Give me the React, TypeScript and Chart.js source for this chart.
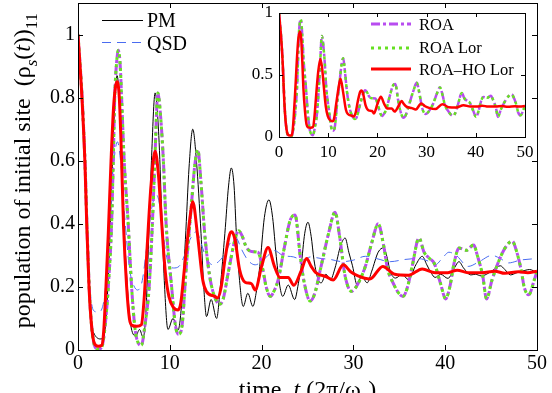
import React, { useEffect, useRef } from "react";
import { Chart, registerables } from "chart.js";

Chart.register(...registerables);

// ---------- data (time in units of 2π/ω_c) ----------
const pmT = [0, 0.45, 0.78, 0.97, 1.2, 1.45, 1.7, 2.4, 2.8, 3.1, 3.4, 3.7, 4.0, 4.25, 4.5, 4.8, 5.1, 5.5, 5.8, 6.3, 6.7, 7.1, 7.4, 7.7, 8.0, 8.4, 8.8, 9.1, 9.4, 9.8, 10.35, 10.9, 11.3, 11.7, 12.1, 12.5, 12.9, 13.4, 13.7, 14.0, 14.5, 15.1, 15.5, 16.0, 16.4, 16.7, 17.0, 17.25, 17.6, 18.0, 18.5, 19.05, 19.4, 19.8, 20.3, 20.8, 21.2, 21.6, 22.0, 22.3, 22.9, 23.6, 24.0, 24.3, 24.7, 25.05, 25.4, 25.7, 26.2, 26.5, 27.0, 27.5, 28.0, 28.6, 29.1, 29.5, 29.9, 30.4, 30.9, 31.5, 32.0, 32.7, 33.3, 33.7, 34.0, 34.6, 35.3, 36.0, 36.8, 37.5, 38.0, 38.5, 38.9, 39.5, 40.3, 41.0, 41.5, 42.0, 42.8, 43.3, 43.9, 44.5, 45.3, 46.0, 46.5, 47.1, 47.8, 48.4, 49.2, 50];
const pmV = [1, 0.8, 0.57, 0.4, 0.2, 0.08, 0.055, 0.035, 0.04, 0.12, 0.3, 0.55, 0.78, 0.87, 0.8, 0.58, 0.35, 0.15, 0.07, 0.045, 0.065, 0.04, 0.12, 0.35, 0.6, 0.815, 0.68, 0.45, 0.22, 0.065, 0.1, 0.063, 0.15, 0.35, 0.58, 0.7, 0.6, 0.37, 0.2, 0.106, 0.16, 0.1, 0.2, 0.37, 0.52, 0.577, 0.52, 0.37, 0.22, 0.138, 0.18, 0.138, 0.18, 0.265, 0.42, 0.476, 0.42, 0.296, 0.2, 0.17, 0.206, 0.16, 0.21, 0.265, 0.37, 0.405, 0.36, 0.287, 0.22, 0.213, 0.24, 0.223, 0.26, 0.33, 0.355, 0.31, 0.267, 0.207, 0.234, 0.213, 0.25, 0.31, 0.324, 0.29, 0.25, 0.228, 0.24, 0.223, 0.27, 0.297, 0.27, 0.243, 0.23, 0.24, 0.227, 0.26, 0.28, 0.26, 0.238, 0.24, 0.235, 0.24, 0.255, 0.267, 0.255, 0.238, 0.245, 0.25, 0.255, 0.245];

const qsdT = [0, 0.5, 0.9, 1.3, 1.7, 2.2, 2.6, 3.0, 3.4, 3.85, 4.3, 4.7, 5.1, 5.6, 6.0, 6.5, 7.0, 7.5, 8.1, 8.6, 9.0, 9.5, 9.9, 10.4, 11.0, 11.6, 12.2, 12.9, 13.5, 14.0, 14.7, 15.3, 15.9, 16.6, 17.2, 17.8, 18.5, 19.3, 20.0, 20.7, 21.4, 22.3, 23.5, 24.5, 25.3, 26.5, 27.5, 28.8, 30.0, 31.3, 32.5, 34.0, 35.6, 37.0, 38.3, 38.9, 39.8, 40.4, 41.2, 42.5, 43.7, 45.1, 46.0, 46.9, 48.2, 50];
const qsdV = [1, 0.78, 0.45, 0.2, 0.125, 0.12, 0.13, 0.2, 0.38, 0.58, 0.66, 0.58, 0.42, 0.26, 0.21, 0.19, 0.22, 0.33, 0.46, 0.49, 0.44, 0.32, 0.27, 0.26, 0.265, 0.3, 0.35, 0.375, 0.33, 0.29, 0.27, 0.28, 0.3, 0.34, 0.355, 0.32, 0.285, 0.27, 0.28, 0.3, 0.315, 0.3, 0.295, 0.285, 0.295, 0.29, 0.287, 0.28, 0.285, 0.297, 0.29, 0.28, 0.287, 0.29, 0.28, 0.27, 0.295, 0.31, 0.3, 0.265, 0.28, 0.3, 0.29, 0.276, 0.285, 0.29];

const roaT = [0, 0.45, 0.78, 0.97, 1.22, 1.5, 1.85, 2.2, 2.6, 3.0, 3.3, 3.66, 3.84, 4.0, 4.2, 4.4, 4.6, 4.75, 5.03, 5.47, 5.84, 6.2, 6.6, 6.9, 7.3, 7.75, 8.1, 8.37, 8.7, 9.0, 9.3, 9.6, 10.2, 10.6, 10.95, 11.3, 11.8, 12.4, 12.7, 13.05, 13.4, 13.8, 14.35, 15.0, 15.4, 15.8, 16.35, 17.1, 17.5, 17.9, 18.3, 18.9, 19.6, 20.1, 20.5, 20.95, 21.4, 21.8, 22.5, 23.1, 23.65, 24.2, 24.6, 25.3, 25.8, 26.4, 27.3, 28.0, 28.5, 29.1, 29.8, 30.3, 31.3, 32.0, 32.7, 33.3, 33.7, 34.2, 35.4, 35.9, 36.4, 37.15, 37.7, 38.3, 38.8, 39.5, 40.05, 40.5, 41.0, 41.5, 42.3, 43.1, 43.5, 44.1, 44.5, 45.1, 46.1, 46.8, 47.3, 47.8, 48.3, 48.6, 49.1, 49.7, 50];
const roaV = [1, 0.8, 0.58, 0.4, 0.2, 0.07, 0.01, 0.003, 0.01, 0.09, 0.2, 0.4, 0.6, 0.8, 0.91, 0.95, 0.9, 0.8, 0.6, 0.4, 0.2, 0.07, 0.02, 0.015, 0.08, 0.2, 0.4, 0.6, 0.815, 0.74, 0.6, 0.4, 0.2, 0.08, 0.05, 0.07, 0.265, 0.476, 0.58, 0.635, 0.53, 0.37, 0.233, 0.16, 0.145, 0.16, 0.243, 0.35, 0.378, 0.36, 0.328, 0.312, 0.31, 0.26, 0.2, 0.17, 0.19, 0.222, 0.328, 0.41, 0.428, 0.3, 0.22, 0.155, 0.18, 0.255, 0.37, 0.437, 0.36, 0.234, 0.186, 0.2, 0.265, 0.34, 0.4, 0.33, 0.26, 0.22, 0.17, 0.2, 0.265, 0.355, 0.31, 0.29, 0.275, 0.21, 0.162, 0.2, 0.28, 0.323, 0.316, 0.333, 0.3, 0.233, 0.162, 0.222, 0.3, 0.335, 0.345, 0.31, 0.25, 0.2, 0.175, 0.222, 0.25];
const roaLorV = [1, 0.8, 0.58, 0.4, 0.2, 0.07, 0.01, 0.003, 0.01, 0.09, 0.2, 0.4, 0.6, 0.8, 0.91, 0.95, 0.9, 0.8, 0.6, 0.4, 0.2, 0.07, 0.02, 0.015, 0.08, 0.2, 0.4, 0.6, 0.815, 0.74, 0.6, 0.4, 0.2, 0.08, 0.05, 0.07, 0.265, 0.476, 0.58, 0.635, 0.53, 0.37, 0.233, 0.16, 0.145, 0.16, 0.243, 0.35, 0.378, 0.36, 0.328, 0.312, 0.31, 0.26, 0.2, 0.17, 0.19, 0.222, 0.328, 0.41, 0.428, 0.3, 0.22, 0.155, 0.18, 0.255, 0.37, 0.437, 0.36, 0.234, 0.186, 0.2, 0.265, 0.34, 0.4, 0.33, 0.26, 0.22, 0.17, 0.2, 0.265, 0.355, 0.31, 0.29, 0.275, 0.21, 0.162, 0.2, 0.28, 0.323, 0.316, 0.333, 0.3, 0.233, 0.162, 0.222, 0.3, 0.335, 0.345, 0.31, 0.25, 0.2, 0.175, 0.222, 0.25];

const hoT = [0, 0.43, 0.76, 0.95, 1.2, 1.5, 1.8, 2.2, 2.6, 2.8, 3.0, 3.3, 3.6, 3.9, 4.25, 4.5, 4.75, 4.95, 5.3, 5.6, 5.9, 6.4, 6.9, 7.2, 7.5, 7.95, 8.4, 8.75, 9.1, 9.5, 9.9, 10.4, 10.9, 11.2, 11.6, 12.2, 12.5, 13.0, 13.6, 14.0, 14.9, 15.2, 15.6, 16.0, 16.5, 16.75, 17.1, 17.6, 18.2, 18.9, 19.3, 20.0, 20.7, 21.4, 22.0, 22.9, 23.5, 24.3, 24.9, 25.4, 25.9, 27.0, 27.8, 28.9, 29.7, 30.5, 31.8, 33.2, 34.5, 36.0, 37.5, 38.9, 40.3, 41.3, 42.5, 44.0, 45.4, 46.5, 48.0, 49.0, 50];
const hoV = [1, 0.8, 0.59, 0.4, 0.2, 0.07, 0.02, 0.012, 0.015, 0.06, 0.17, 0.37, 0.6, 0.78, 0.85, 0.8, 0.6, 0.4, 0.2, 0.1, 0.078, 0.075, 0.08, 0.16, 0.31, 0.52, 0.63, 0.56, 0.41, 0.25, 0.17, 0.135, 0.127, 0.15, 0.26, 0.42, 0.47, 0.37, 0.22, 0.185, 0.17, 0.165, 0.2, 0.285, 0.365, 0.375, 0.35, 0.255, 0.215, 0.21, 0.19, 0.265, 0.325, 0.265, 0.23, 0.23, 0.205, 0.25, 0.29, 0.265, 0.245, 0.233, 0.222, 0.27, 0.248, 0.235, 0.225, 0.265, 0.24, 0.237, 0.257, 0.245, 0.245, 0.253, 0.245, 0.245, 0.25, 0.243, 0.248, 0.245, 0.25];

const xTicks = [0, 10, 20, 30, 40, 50];
const yTicksMain = [0, 0.2, 0.4, 0.6, 0.8, 1];
const yTicksInset = [0, 0.5, 1];

const mainLegend = ["PM", "QSD"];
const insetLegend = ["ROA", "ROA Lor", "ROA\u2013HO Lor"];

// ---------- styles ----------
const SERIF = '"Liberation Serif", "Times New Roman", serif';
const C_PM = "#000000";
const C_QSD = "#4a6cf0";
const C_ROA = "#b84cf0";
const C_LOR = "#66e022";
const C_HO = "#ff0000";
const DASH_QSD = [9, 6];
const DASH_ROA = [9, 3, 3, 3];
const DASH_LOR = [3, 4];

const pts = (t: number[], v: number[]) => t.map((x, i) => ({ x, y: v[i] }));
const fmt = (v: number) => String(Number(Number(v).toFixed(2)));

type Seg = { t: string; it?: boolean; sub?: boolean };
function segFont(s: Seg, size: number) {
  const sz = s.sub ? size * 0.7 : size;
  return `${s.it ? "italic " : ""}${sz}px ${SERIF}`;
}
function richWidth(ctx: CanvasRenderingContext2D, segs: Seg[], size: number) {
  let w = 0;
  for (const s of segs) {
    ctx.font = segFont(s, size);
    w += ctx.measureText(s.t).width;
  }
  return w;
}
function drawRich(ctx: CanvasRenderingContext2D, segs: Seg[], x: number, y: number, size: number) {
  let cx = x;
  ctx.textAlign = "left";
  ctx.textBaseline = "alphabetic";
  for (const s of segs) {
    ctx.font = segFont(s, size);
    ctx.fillText(s.t, cx, s.sub ? y + size * 0.28 : y);
    cx += ctx.measureText(s.t).width;
  }
}

const yTitle: Seg[] = [
  { t: "population of initial site  (\u03c1" },
  { t: "s", it: true, sub: true },
  { t: "(" },
  { t: "t", it: true },
  { t: "))" },
  { t: "11", sub: true },
];
const xTitle: Seg[] = [
  { t: "time  " },
  { t: "t", it: true },
  { t: " (2\u03c0/\u03c9" },
  { t: "c", sub: true },
  { t: ")" },
];

function drawFrame(chart: any, yTicks: number[], tickLen: number) {
  const { ctx, chartArea: a, scales } = chart;
  ctx.save();
  ctx.strokeStyle = "#000";
  ctx.lineWidth = 1;
  ctx.setLineDash([]);
  ctx.beginPath();
  for (const t of xTicks) {
    const px = Math.round(scales.x.getPixelForValue(t)) + 0.5;
    ctx.moveTo(px, a.bottom);
    ctx.lineTo(px, a.bottom - tickLen);
    ctx.moveTo(px, a.top);
    ctx.lineTo(px, a.top + tickLen);
  }
  for (const t of yTicks) {
    const py = Math.round(scales.y.getPixelForValue(t)) + 0.5;
    ctx.moveTo(a.left, py);
    ctx.lineTo(a.left + tickLen, py);
    ctx.moveTo(a.right, py);
    ctx.lineTo(a.right - tickLen, py);
  }
  ctx.stroke();
  ctx.strokeRect(Math.round(a.left) + 0.5, Math.round(a.top) + 0.5, Math.round(a.right - a.left), Math.round(a.bottom - a.top));
  ctx.restore();
}

function legendLine(ctx: CanvasRenderingContext2D, x1: number, x2: number, y: number, color: string, width: number, dash: number[]) {
  ctx.save();
  ctx.strokeStyle = color;
  ctx.lineWidth = width;
  ctx.setLineDash(dash);
  ctx.beginPath();
  ctx.moveTo(x1, y);
  ctx.lineTo(x2, y);
  ctx.stroke();
  ctx.restore();
}

const mainPlugin = {
  id: "mainDecor",
  afterDatasetsDraw(chart: any) {
    const ctx = chart.ctx as CanvasRenderingContext2D;
    // white box behind inset
    ctx.save();
    ctx.fillStyle = "#ffffff";
    ctx.fillRect(245, 9, 285, 154);
    ctx.restore();
    drawFrame(chart, yTicksMain, 5);
  },
  afterDraw(chart: any) {
    const ctx = chart.ctx as CanvasRenderingContext2D;
    ctx.save();
    ctx.fillStyle = "#000";
    // legend
    legendLine(ctx, 102, 143, 20.5, C_PM, 1, []);
    legendLine(ctx, 102, 143, 42.5, C_QSD, 1, DASH_QSD);
    ctx.font = `20px ${SERIF}`;
    ctx.textAlign = "left";
    ctx.textBaseline = "alphabetic";
    ctx.fillText(mainLegend[0], 147, 27);
    ctx.fillText(mainLegend[1], 147, 50);
    // x title
    const fs = 24;
    const wx = richWidth(ctx, xTitle, fs);
    drawRich(ctx, xTitle, 307.5 - wx / 2, 397, fs);
    // y title
    const wy = richWidth(ctx, yTitle, fs);
    ctx.translate(30, 13 + wy);
    ctx.rotate(-Math.PI / 2);
    drawRich(ctx, yTitle, 0, 0, fs);
    ctx.restore();
  },
};

const insetPlugin = {
  id: "insetDecor",
  afterDatasetsDraw(chart: any) {
    drawFrame(chart, yTicksInset, 4);
  },
  afterDraw(chart: any) {
    const ctx = chart.ctx as CanvasRenderingContext2D;
    ctx.save();
    legendLine(ctx, 371, 411, 24, C_ROA, 3, DASH_ROA);
    legendLine(ctx, 371, 411, 48, C_LOR, 3, DASH_LOR);
    legendLine(ctx, 371, 411, 69, C_HO, 3, []);
    ctx.fillStyle = "#000";
    ctx.font = `16.5px ${SERIF}`;
    ctx.textAlign = "left";
    ctx.textBaseline = "alphabetic";
    ctx.fillText(insetLegend[0], 419, 30);
    ctx.fillText(insetLegend[1], 419, 53);
    ctx.fillText(insetLegend[2], 419, 75);
    ctx.restore();
  },
};

function ds(label: string, data: any[], color: string, width: number, dash: number[], order: number) {
  return {
    label,
    data,
    borderColor: color,
    backgroundColor: color,
    borderWidth: width,
    borderDash: dash,
    pointRadius: 0,
    fill: false,
    cubicInterpolationMode: "monotone" as const,
    order,
  };
}

function axisX(fontSize: number, pad: number, h: number) {
  return {
    type: "linear" as const,
    min: 0,
    max: 50,
    ticks: { stepSize: 10, color: "#000", font: { family: SERIF, size: fontSize }, padding: pad, maxRotation: 0, autoSkip: false, includeBounds: false, callback: (v: any) => fmt(v) },
    grid: { display: false, drawTicks: false },
    border: { display: false },
    afterFit: (s: any) => {
      s.height = h;
      s.paddingLeft = 0;
      s.paddingRight = 0;
    },
  };
}
function axisY(max: number, step: number, fontSize: number, pad: number, w: number) {
  return {
    type: "linear" as const,
    min: 0,
    max,
    ticks: { stepSize: step, color: "#000", font: { family: SERIF, size: fontSize }, padding: pad, includeBounds: false, callback: (v: any) => fmt(v) },
    grid: { display: false, drawTicks: false },
    border: { display: false },
    afterFit: (s: any) => {
      s.width = w;
      s.paddingTop = 0;
      s.paddingBottom = 0;
    },
  };
}

export default function App() {
  const mainRef = useRef<HTMLCanvasElement>(null);
  const insetRef = useRef<HTMLCanvasElement>(null);

  useEffect(() => {
    const main = new Chart(mainRef.current!, {
      type: "line",
      data: {
        datasets: [
          ds("PM", pts(pmT, pmV), C_PM, 1, [], 5),
          ds("QSD", pts(qsdT, qsdV), C_QSD, 1, DASH_QSD, 4),
          ds("ROA", pts(roaT, roaV), C_ROA, 3, DASH_ROA, 3),
          ds("ROA Lor", pts(roaT, roaLorV), C_LOR, 3, DASH_LOR, 2),
          ds("ROA-HO Lor", pts(hoT, hoV), C_HO, 3, [], 1),
        ],
      },
      options: {
        responsive: false,
        animation: false,
        events: [],
        layout: { padding: { left: 0, top: 3, right: 15, bottom: 0 } },
        plugins: { legend: { display: false }, tooltip: { enabled: false }, title: { display: false } },
        scales: {
          x: axisX(20, 2, 43),
          y: axisY(1.1, 0.2, 20, 3, 78),
        },
      },
      plugins: [mainPlugin],
    });

    const inset = new Chart(insetRef.current!, {
      type: "line",
      data: {
        datasets: [
          ds("ROA", pts(roaT, roaV), C_ROA, 2.5, DASH_ROA, 3),
          ds("ROA Lor", pts(roaT, roaLorV), C_LOR, 2.5, DASH_LOR, 2),
          ds("ROA-HO Lor", pts(hoT, hoV), C_HO, 2.5, [], 1),
        ],
      },
      options: {
        responsive: false,
        animation: false,
        events: [],
        layout: { padding: { left: 245, top: 13, right: 27, bottom: 231 } },
        plugins: { legend: { display: false }, tooltip: { enabled: false }, title: { display: false } },
        scales: {
          x: axisX(17, 5, 25),
          y: axisY(1, 0.5, 17, 6, 34),
        },
      },
      plugins: [insetPlugin],
    });

    return () => {
      main.destroy();
      inset.destroy();
    };
  }, []);

  return (
    <div style={{ position: "fixed", left: 0, top: 0, width: 552, height: 393, background: "#ffffff", overflow: "hidden" }}>
      <canvas ref={mainRef} width={552} height={393} style={{ position: "absolute", left: 0, top: 0 }} />
      <canvas ref={insetRef} width={552} height={393} style={{ position: "absolute", left: 0, top: 0, pointerEvents: "none" }} />
    </div>
  );
}
